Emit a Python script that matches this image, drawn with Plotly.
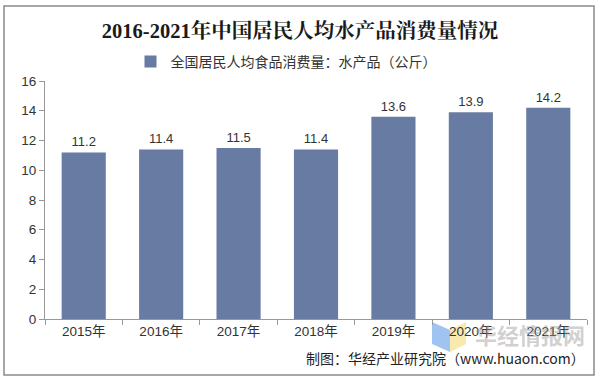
import plotly.graph_objects as go

categories = ["2015年", "2016年", "2017年", "2018年", "2019年", "2020年", "2021年"]
values = [11.2, 11.4, 11.5, 11.4, 13.6, 13.9, 14.2]
series_name = "全国居民人均食品消费量：水产品（公斤）"
y_ticks = [0, 2, 4, 6, 8, 10, 12, 14, 16]

W, H = 600, 381
L, R, T, B = 45, 13, 81, 62
pw, ph = W - L - R, H - T - B

def px_x(x):
    return (x - L) / pw

def px_y(y):
    return (H - B - y) / ph

sans = "Liberation Sans, Arial, Noto Sans CJK SC, sans-serif"

fig = go.Figure()
fig.add_trace(go.Bar(
    x=categories, y=values, name=series_name,
    marker=dict(color="#687ba2", line=dict(width=0)),
    text=[f"{v:.1f}" for v in values], textposition="outside",
    textfont=dict(size=13, color="#333333", family=sans),
    cliponaxis=False,
    showlegend=True,
))

fig.update_layout(
    width=W, height=H,
    margin=dict(l=L, r=R, t=T, b=B),
    paper_bgcolor="white", plot_bgcolor="white",
    bargap=0.43,
    title=dict(
        text="<b>2016-2021年中国居民人均水产品消费量情况</b>",
        x=0.5, xanchor="center", y=1 - 31 / H, yanchor="middle",
        font=dict(size=20.5, color="#1a1a1a", family="Liberation Serif, Noto Serif CJK SC, Noto Sans CJK SC, serif"),
    ),
    legend=dict(
        orientation="h", x=px_x(286), xanchor="center", y=px_y(62), yanchor="middle",
        font=dict(size=14, color="#333333", family="Noto Sans CJK SC, sans-serif"),
        itemwidth=30, bgcolor="rgba(0,0,0,0)",
    ),
    xaxis=dict(
        showline=True, linecolor="#999999", linewidth=1,
        ticks="outside", tickson="boundaries", ticklen=5, tickcolor="#999999",
        tickfont=dict(size=13.5, color="#333333", family=sans),
        showgrid=False,
    ),
    yaxis=dict(
        range=[0, 16], tickvals=y_ticks,
        showline=True, linecolor="#999999", linewidth=1,
        ticks="outside", ticklen=5, tickcolor="#999999",
        tickfont=dict(size=13.5, color="#333333", family=sans),
        showgrid=False, zeroline=False,
    ),
    shapes=[
        dict(type="rect", xref="paper", yref="paper",
             x0=px_x(4), x1=px_x(594), y0=px_y(375), y1=px_y(6),
             line=dict(color="#8a8a8a", width=1.5), fillcolor="rgba(0,0,0,0)", layer="above"),
        dict(type="path", xref="paper", yref="paper",
             path=f"M {px_x(432)},{px_y(322)} L {px_x(450)},{px_y(330)} L {px_x(450)},{px_y(352)} L {px_x(432)},{px_y(344)} Z",
             line=dict(width=0), fillcolor="rgba(120,170,235,0.7)", layer="below"),
        dict(type="path", xref="paper", yref="paper",
             path=f"M {px_x(450)},{px_y(330)} L {px_x(466)},{px_y(322)} L {px_x(466)},{px_y(344)} L {px_x(450)},{px_y(352)} Z",
             line=dict(width=0), fillcolor="rgba(245,225,140,0.7)", layer="below"),
    ],
    annotations=[
        dict(text="制图：华经产业研究院（www.huaon.com）", xref="paper", yref="paper",
             x=px_x(587), y=px_y(358), xanchor="right", yanchor="middle", showarrow=False,
             font=dict(size=14, color="#222222", family="Noto Sans CJK SC, sans-serif")),
        dict(text="<b>华经情报网</b>", xref="paper", yref="paper",
             x=px_x(530), y=px_y(334), xanchor="center", yanchor="middle", showarrow=False,
             font=dict(size=22, color="rgba(150,150,150,0.45)", family="Noto Sans CJK SC, sans-serif")),
    ],
)

fig.write_html("out.html", config={"displayModeBar": False},
               post_script="document.body.style.margin='0';document.body.style.padding='0';")
